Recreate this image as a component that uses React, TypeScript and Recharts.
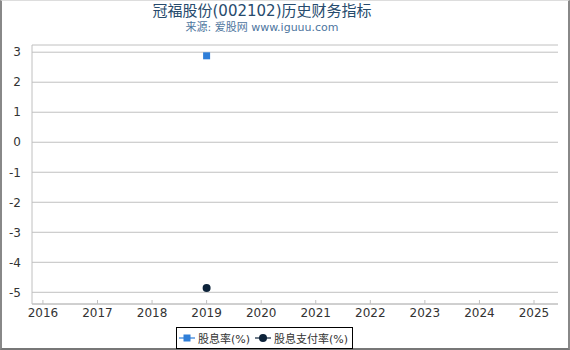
import { LineChart, Line, XAxis, YAxis, CartesianGrid } from 'recharts';

const years = [2016, 2017, 2018, 2019, 2020, 2021, 2022, 2023, 2024, 2025];
const yTicks = [-5, -4, -3, -2, -1, 0, 1, 2, 3];

// only 2019 has values
const dividendYear = [2019];
const dividendYield = [2.88];
const payoutRatio = [-4.86];

const FONT = '"DejaVu Sans", "Noto Sans CJK SC", sans-serif';
const BLUE = '#2f7ed8';
const NAVY = '#0d233a';

const data = dividendYear.map((year, i) => ({
  year,
  yield: dividendYield[i],
  payout: payoutRatio[i],
}));

const SquareDot = (props: any) => {
  const { cx, cy } = props;
  if (cx == null || cy == null) return null;
  return <rect x={cx - 3.5} y={cy - 3.5} width={7} height={7} fill={BLUE} />;
};

const CircleDot = (props: any) => {
  const { cx, cy } = props;
  if (cx == null || cy == null) return null;
  return <circle cx={cx} cy={cy} r={4} fill={NAVY} />;
};

function Legend() {
  return (
    <div
      style={{
        position: 'absolute',
        left: 176,
        top: 327,
        height: 22,
        paddingRight: 4,
        border: '1px solid #000',
        boxSizing: 'border-box',
        display: 'flex',
        alignItems: 'center',
        whiteSpace: 'nowrap',
        fontFamily: FONT,
        fontSize: 11,
        color: '#333',
        background: '#fff',
      }}
    >
      <svg width={16} height={10} style={{ marginLeft: 2, flexShrink: 0 }}>
        <line x1={0} y1={5} x2={16} y2={5} stroke={BLUE} strokeWidth={2} opacity={0.6} />
        <rect x={4.5} y={1.5} width={7} height={7} fill={BLUE} />
      </svg>
      <span style={{ marginLeft: 3 }}>股息率(%)</span>
      <svg width={16} height={10} style={{ marginLeft: 5, flexShrink: 0 }}>
        <line x1={0} y1={5} x2={16} y2={5} stroke={NAVY} strokeWidth={2} opacity={0.6} />
        <circle cx={8} cy={5} r={4} fill={NAVY} />
      </svg>
      <span style={{ marginLeft: 3 }}>股息支付率(%)</span>
    </div>
  );
}

export default function App() {
  return (
    <div
      style={{
        position: 'absolute',
        left: 0,
        top: 0,
        width: 570,
        height: 350,
        background: '#fff',
        boxSizing: 'border-box',
        borderLeft: '2px solid #888',
        borderRight: '2px solid #888',
        borderBottom: '2px solid #777',
        borderTop: '1px solid #ddd',
        fontFamily: FONT,
      }}
    >
      <div
        style={{
          position: 'absolute',
          left: -2,
          top: -1,
          width: 570,
          height: 350,
        }}
      >
        <div
          style={{
            position: 'absolute',
            left: 0,
            top: 1,
            width: 524,
            textAlign: 'center',
            fontSize: 15,
            color: '#274b6d',
            lineHeight: '20px',
            whiteSpace: 'nowrap',
          }}
        >
          冠福股份(002102)历史财务指标
        </div>
        <div
          style={{
            position: 'absolute',
            left: 0,
            top: 20,
            width: 524,
            textAlign: 'center',
            fontSize: 11,
            color: '#4d759e',
            lineHeight: '16px',
            whiteSpace: 'nowrap',
          }}
        >
          来源: 爱股网 www.iguuu.com
        </div>
        <LineChart
          width={570}
          height={350}
          data={data}
          margin={{ top: 45, right: 12, bottom: 24, left: 0 }}
          style={{ position: 'absolute', left: 0, top: 0 }}
        >
          <CartesianGrid vertical={false} stroke="#c0c0c0" />
          <XAxis
            dataKey="year"
            type="number"
            domain={[2015.8, 2025.44]}
            ticks={years}
            allowDataOverflow
            height={22}
            tickSize={-4}
            tickMargin={8}
            tick={{ fill: '#333', fontSize: 12, fontFamily: FONT }}
            axisLine={{ stroke: '#c0c0c0' }}
            tickLine={{ stroke: '#c0c0c0' }}
          />
          <YAxis
            type="number"
            domain={[-5.39, 3.24]}
            ticks={yTicks}
            allowDataOverflow
            width={32}
            tickSize={0}
            tickMargin={11}
            tickLine={false}
            axisLine={{ stroke: '#c0c0c0' }}
            tick={{ fill: '#333', fontSize: 12, fontFamily: FONT }}
          />
          <Line
            dataKey="yield"
            stroke={BLUE}
            strokeWidth={2}
            dot={<SquareDot />}
            activeDot={false}
            isAnimationActive={false}
          />
          <Line
            dataKey="payout"
            stroke={NAVY}
            strokeWidth={2}
            dot={<CircleDot />}
            activeDot={false}
            isAnimationActive={false}
          />
        </LineChart>
        <Legend />
      </div>
    </div>
  );
}
